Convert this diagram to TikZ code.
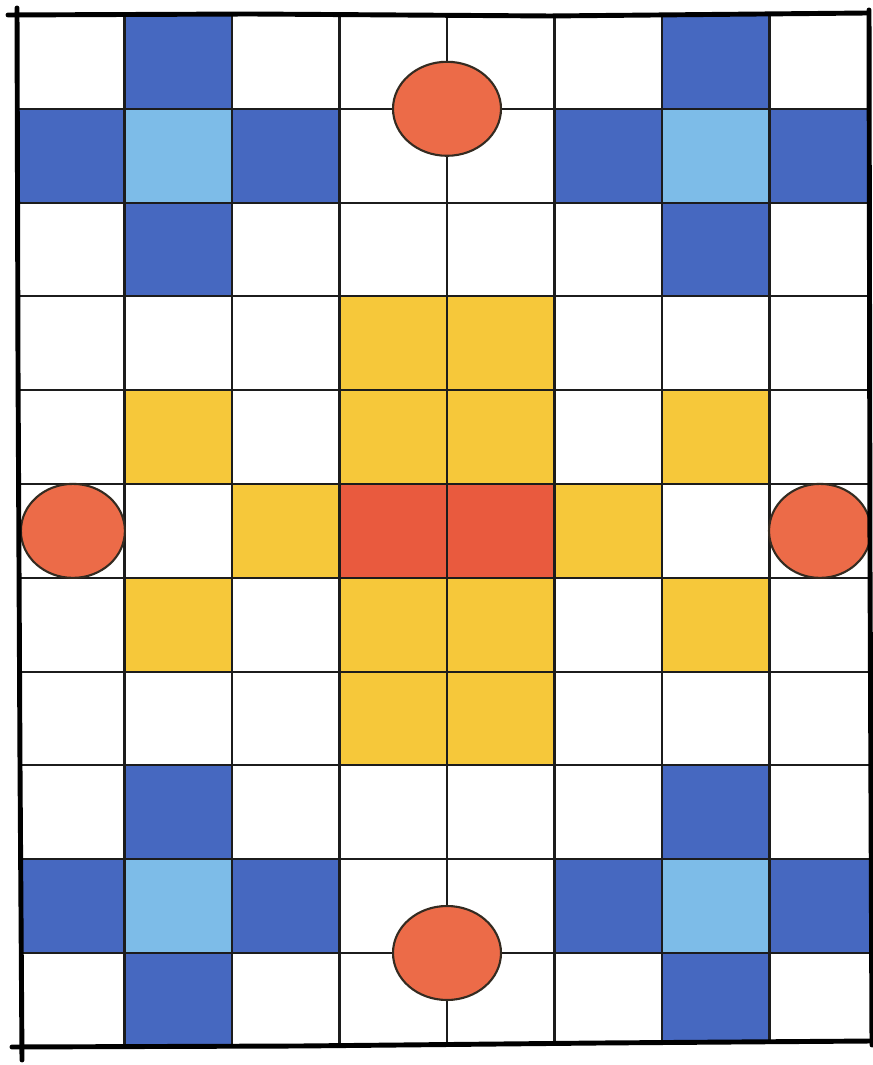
\documentclass[tikz,border=0pt]{standalone}
\usepackage{xcolor}
\usepackage{tikz}
\definecolor{tileblue}{HTML}{4668C0}
\definecolor{tilesky}{HTML}{7DBCE8}
\definecolor{tilegold}{HTML}{F6C83A}
\definecolor{tilered}{HTML}{E95A3E}
\definecolor{discred}{HTML}{EC6B48}
\definecolor{ink}{HTML}{1C1C1C}

\begin{document}
\begin{tikzpicture}[
  gridline/.style={ink, line width=0.6pt},
  redspot/.style={fill=discred, draw=ink!85!brown, line width=0.6pt},
  penline/.style={black, line width=1.4pt, line cap=round, line join=round}
]

\useasboundingbox (0,0) rectangle (8.73,10.65);
\fill[white] (0,0) rectangle (8.73,10.65);

% =========================
% BOARD (11 rows, 8 columns)
% =========================
\begin{scope}
% keep the board inside the pen frame
\clip (0.17,10.50) -- (8.69,10.52) -- (8.72,0.23) -- (0.21,0.18) -- cycle;

\begin{scope}[shift={(0.17,10.50)}, x=1.075cm, y=-0.938cm]

% blue crosses (top and bottom)
\foreach \c/\r in {1/0,6/0,0/1,2/1,5/1,7/1,1/2,6/2,
                   1/8,6/8,0/9,2/9,5/9,7/9,1/10,6/10} {
    \fill[tileblue] (\c,\r) rectangle ++(1,1);
}

% light blue centres
\foreach \c/\r in {1/1,6/1,1/9,6/9} {
    \fill[tilesky] (\c,\r) rectangle ++(1,1);
}

% yellow star in the middle
\foreach \c/\r in {3/3,4/3,1/4,3/4,4/4,6/4,2/5,5/5,
                   1/6,3/6,4/6,6/6,3/7,4/7} {
    \fill[tilegold] (\c,\r) rectangle ++(1,1);
}

% red heart of the star
\fill[tilered] (3,5) rectangle ++(2,1);

% grid lines
\foreach \c in {1,...,7} {
    \draw[gridline] (\c,0) -- (\c,11);
}
\foreach \r in {1,...,10} {
    \draw[gridline] (0,\r) -- (8,\r);
}

% =========================
% RED DISCS
% =========================
\draw[redspot] (4,1) ellipse [x radius=0.54cm, y radius=0.47cm];
\draw[redspot] (4,10) ellipse [x radius=0.54cm, y radius=0.47cm];
\draw[redspot] (0.52,5.5) ellipse [x radius=0.52cm, y radius=0.47cm];
\draw[redspot] (7.47,5.5) ellipse [x radius=0.51cm, y radius=0.47cm];
\end{scope}
\end{scope}

% =========================
% HAND DRAWN FRAME
% =========================
\draw[penline] (0.08,10.50) -- (2.5,10.51) -- (5.5,10.49) -- (8.68,10.52);
\draw[penline] (0.17,10.57) -- (0.18,7.0) -- (0.20,3.0) -- (0.22,0.05);
\draw[penline] (0.12,0.18) -- (3.0,0.19) -- (6.0,0.22) -- (8.73,0.24);
\draw[penline] (8.69,10.55) -- (8.70,5.0) -- (8.72,0.20);

\end{tikzpicture}
\end{document}
